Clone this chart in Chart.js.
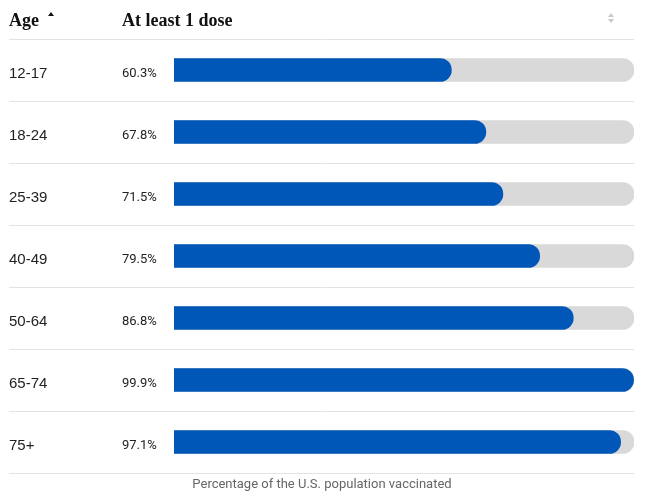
<!DOCTYPE html>
<html>
<head>
<meta charset="utf-8">
<script src="https://cdn.jsdelivr.net/npm/chart.js@4.4.0/dist/chart.umd.min.js"></script>
<style>
  html, body { margin: 0; padding: 0; background: #fff; }
  #wrap { position: relative; width: 653px; height: 500px; }
</style>
</head>
<body>
<div id="wrap"><canvas id="vaxChart"></canvas></div>
<script>
const ageGroups = ['12-17', '18-24', '25-39', '40-49', '50-64', '65-74', '75+'];
const atLeastOneDose = [60.3, 67.8, 71.5, 79.5, 86.8, 99.9, 97.1];
const trackValues = [100, 100, 100, 100, 100, 100, 100];
const headerLabels = ['Age', 'At least 1 dose'];
const footerText = 'Percentage of the U.S. population vaccinated';

const LINE_LEFT = 9;
const PCT_X = 122;

// table chrome: header, row rules, percent labels, footer
const tablePlugin = {
    id: 'tableChrome',
    beforeDatasetsDraw(chart) {
        const { ctx, chartArea, scales } = chart;
        const y = scales.y;
        const step = y.getPixelForTick(1) - y.getPixelForTick(0);
        ctx.save();
        ctx.strokeStyle = '#e3e3e3';
        ctx.lineWidth = 1;
        for (let i = 0; i <= ageGroups.length; i++) {
            let py = y.getPixelForTick(0) - step / 2 + i * step;
            py = Math.round(py) + 0.5;
            ctx.beginPath();
            ctx.moveTo(LINE_LEFT, py);
            ctx.lineTo(chartArea.right, py);
            ctx.stroke();
        }
        ctx.restore();
    },
    afterDatasetsDraw(chart) {
        const { ctx, scales } = chart;
        const y = scales.y;
        ctx.save();
        // percent labels
        ctx.fillStyle = '#222';
        ctx.font = '13px Roboto';
        ctx.textAlign = 'left';
        ctx.textBaseline = 'middle';
        atLeastOneDose.forEach((v, i) => {
            ctx.fillText(v.toFixed(1) + '%', PCT_X, y.getPixelForTick(i) + 4);
        });

        // header
        ctx.fillStyle = '#111';
        ctx.font = 'bold 18px "Liberation Serif"';
        ctx.textBaseline = 'alphabetic';
        ctx.fillText(headerLabels[0], LINE_LEFT, 26);
        ctx.fillText(headerLabels[1], PCT_X, 26);
        // sort arrow next to Age
        const ax = LINE_LEFT + ctx.measureText(headerLabels[0]).width + 12;
        ctx.beginPath();
        ctx.moveTo(ax - 3, 16);
        ctx.lineTo(ax + 3, 16);
        ctx.lineTo(ax, 12);
        ctx.closePath();
        ctx.fill();
        // sort arrows on right
        ctx.fillStyle = '#c8c8c8';
        const sx = 611;
        ctx.beginPath();
        ctx.moveTo(sx - 3, 17);
        ctx.lineTo(sx + 3, 17);
        ctx.lineTo(sx, 13);
        ctx.closePath();
        ctx.fill();
        ctx.beginPath();
        ctx.moveTo(sx - 3, 19);
        ctx.lineTo(sx + 3, 19);
        ctx.lineTo(sx, 23);
        ctx.closePath();
        ctx.fill();

        // footer
        ctx.fillStyle = '#666';
        ctx.font = '13px Roboto';
        ctx.textAlign = 'center';
        ctx.textBaseline = 'middle';
        ctx.fillText(footerText, 322, 485);
        ctx.restore();
    }
};

new Chart(document.getElementById('vaxChart'), {
    type: 'bar',
    data: {
        labels: ageGroups,
        datasets: [
            {
                label: 'At least 1 dose',
                data: atLeastOneDose,
                backgroundColor: '#0057b8',
                barThickness: 23,
                borderRadius: 11.5,
                grouped: false,
                order: 1
            },
            {
                label: 'Total',
                data: trackValues,
                backgroundColor: '#d9d9d9',
                barThickness: 23,
                borderRadius: 11.5,
                grouped: false,
                order: 2
            }
        ]
    },
    options: {
        indexAxis: 'y',
        responsive: true,
        maintainAspectRatio: false,
        animation: false,
        layout: { padding: { left: LINE_LEFT, right: 19, top: 39, bottom: 27 } },
        plugins: { legend: { display: false }, tooltip: { enabled: false } },
        scales: {
            x: { display: false, min: 0, max: 100 },
            y: {
                border: { display: false },
                grid: { display: false },
                afterFit: (scale) => { scale.width = 174 - LINE_LEFT; },
                ticks: {
                    crossAlign: 'far',
                    padding: 0,
                    labelOffset: 4,
                    color: '#222',
                    font: { family: 'Liberation Sans', size: 15 }
                }
            }
        }
    },
    plugins: [tablePlugin]
});
</script>
</body>
</html>
